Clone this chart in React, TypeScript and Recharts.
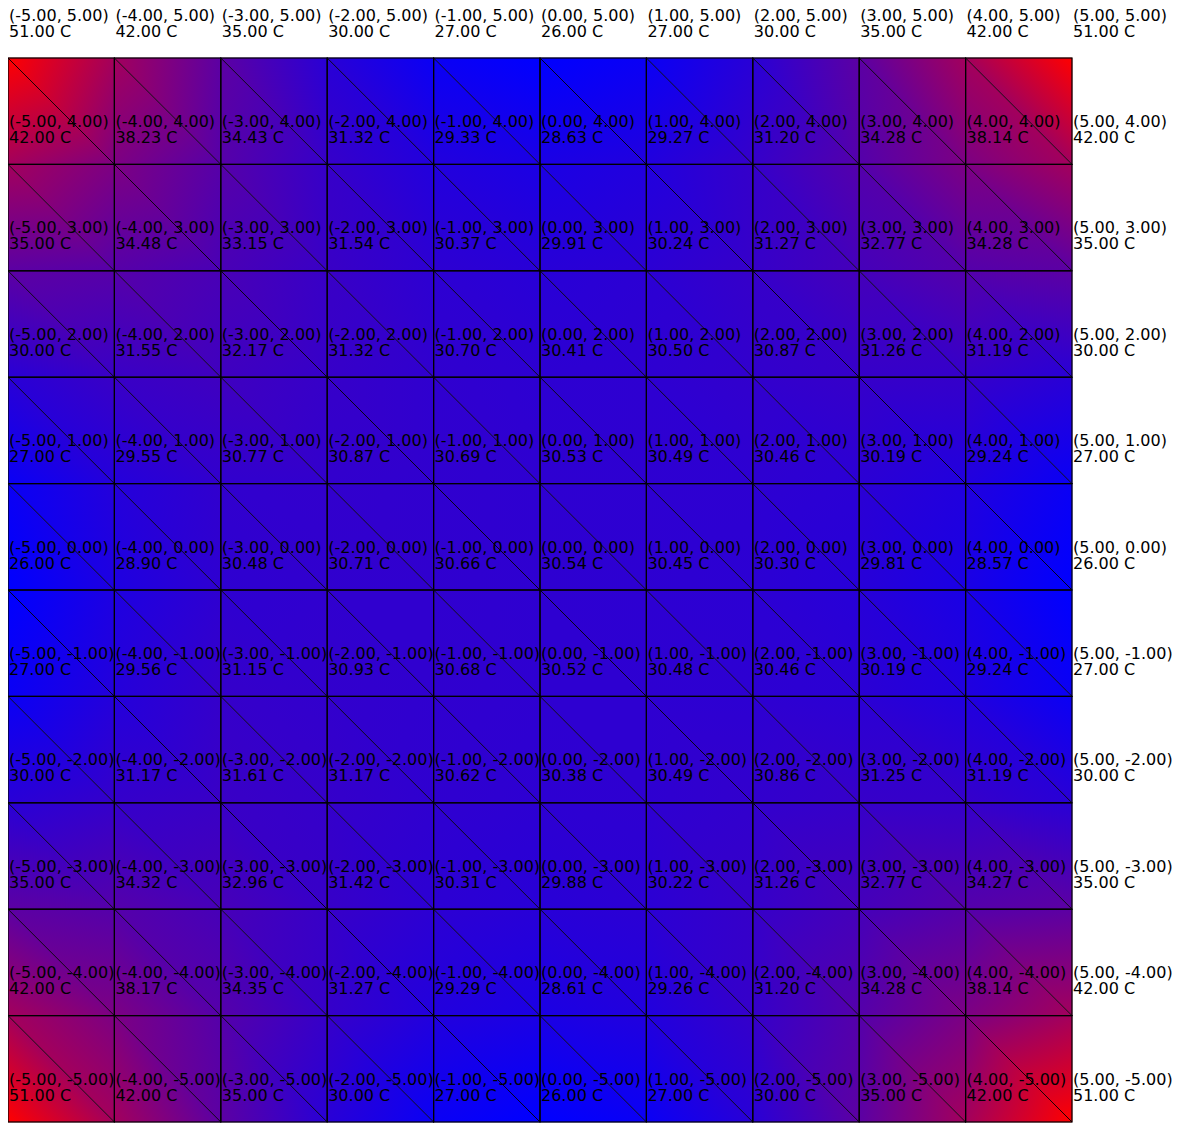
import React from "react";
import { ScatterChart, Scatter, XAxis, YAxis, ReferenceArea } from "recharts";

// node coordinates, both axes
const COORDS = [-5, -4, -3, -2, -1, 0, 1, 2, 3, 4, 5];

// temperature at each node, one row per y value (x from -5 to 5)
const tempY5 = [51.0, 42.0, 35.0, 30.0, 27.0, 26.0, 27.0, 30.0, 35.0, 42.0, 51.0];
const tempY4 = [42.0, 38.23, 34.43, 31.32, 29.33, 28.63, 29.27, 31.2, 34.28, 38.14, 42.0];
const tempY3 = [35.0, 34.48, 33.15, 31.54, 30.37, 29.91, 30.24, 31.27, 32.77, 34.28, 35.0];
const tempY2 = [30.0, 31.55, 32.17, 31.32, 30.7, 30.41, 30.5, 30.87, 31.26, 31.19, 30.0];
const tempY1 = [27.0, 29.55, 30.77, 30.87, 30.69, 30.53, 30.49, 30.46, 30.19, 29.24, 27.0];
const tempY0 = [26.0, 28.9, 30.48, 30.71, 30.66, 30.54, 30.45, 30.3, 29.81, 28.57, 26.0];
const tempYm1 = [27.0, 29.56, 31.15, 30.93, 30.68, 30.52, 30.48, 30.46, 30.19, 29.24, 27.0];
const tempYm2 = [30.0, 31.17, 31.61, 31.17, 30.62, 30.38, 30.49, 30.86, 31.25, 31.19, 30.0];
const tempYm3 = [35.0, 34.32, 32.96, 31.42, 30.31, 29.88, 30.22, 31.26, 32.77, 34.27, 35.0];
const tempYm4 = [42.0, 38.17, 34.35, 31.27, 29.29, 28.61, 29.26, 31.2, 34.28, 38.14, 42.0];
const tempYm5 = [51.0, 42.0, 35.0, 30.0, 27.0, 26.0, 27.0, 30.0, 35.0, 42.0, 51.0];

const ROWS: Record<number, number[]> = {
  5: tempY5,
  4: tempY4,
  3: tempY3,
  2: tempY2,
  1: tempY1,
  0: tempY0,
  [-1]: tempYm1,
  [-2]: tempYm2,
  [-3]: tempYm3,
  [-4]: tempYm4,
  [-5]: tempYm5,
};

const T_MIN = 26;
const T_MAX = 51;

const tempAt = (x: number, y: number) => ROWS[y][COORDS.indexOf(x)];

const colorOf = (t: number) => {
  const f = Math.max(0, Math.min(1, (t - T_MIN) / (T_MAX - T_MIN)));
  const r = Math.round(f * 255);
  const b = 255 - r;
  return `rgb(${r},0,${b})`;
};

const nodes = COORDS.flatMap((y) => COORDS.map((x) => ({ x, y, t: tempAt(x, y) })));

const cells: { x1: number; x2: number; y1: number; y2: number }[] = [];
for (let i = 0; i < COORDS.length - 1; i++) {
  for (let j = 0; j < COORDS.length - 1; j++) {
    cells.push({ x1: COORDS[i], x2: COORDS[i + 1], y1: COORDS[j], y2: COORDS[j + 1] });
  }
}

type Pt = [number, number];

// triangle shaded like gouraud: temperature is linear inside, so one linear gradient does it
function Tri({ id, p, t }: { id: string; p: Pt[]; t: number[] }) {
  const [p0, p1, p2] = p;
  const e1x = p1[0] - p0[0], e1y = p1[1] - p0[1];
  const e2x = p2[0] - p0[0], e2y = p2[1] - p0[1];
  const d1 = t[1] - t[0], d2 = t[2] - t[0];
  const det = e1x * e2y - e1y * e2x;
  const pts = p.map((q) => q.join(",")).join(" ");
  if (Math.abs(det) < 1e-9) return null;
  const a = (d1 * e2y - d2 * e1y) / det;
  const b = (e1x * d2 - e2x * d1) / det;
  const g2 = a * a + b * b;
  const lo = Math.min(...t);
  const hi = Math.max(...t);
  if (g2 < 1e-12 || hi - lo < 1e-9) {
    return <polygon points={pts} fill={colorOf(t[0])} stroke={colorOf(t[0])} strokeWidth={0.5} />;
  }
  const ax = p0[0] + (a * (lo - t[0])) / g2;
  const ay = p0[1] + (b * (lo - t[0])) / g2;
  const bx = p0[0] + (a * (hi - t[0])) / g2;
  const by = p0[1] + (b * (hi - t[0])) / g2;
  return (
    <g>
      <defs>
        <linearGradient id={id} gradientUnits="userSpaceOnUse" x1={ax} y1={ay} x2={bx} y2={by}>
          <stop offset="0" stopColor={colorOf(lo)} />
          <stop offset="1" stopColor={colorOf(hi)} />
        </linearGradient>
      </defs>
      <polygon points={pts} fill={`url(#${id})`} stroke={`url(#${id})`} strokeWidth={0.5} />
    </g>
  );
}

function CellShape(props: any) {
  const { cell } = props;
  let { x, y, width, height } = props;
  if (width < 0) { x += width; width = -width; }
  if (height < 0) { y += height; height = -height; }
  const tl: Pt = [x, y];
  const tr: Pt = [x + width, y];
  const bl: Pt = [x, y + height];
  const br: Pt = [x + width, y + height];
  const tTL = tempAt(cell.x1, cell.y2);
  const tTR = tempAt(cell.x2, cell.y2);
  const tBL = tempAt(cell.x1, cell.y1);
  const tBR = tempAt(cell.x2, cell.y1);
  const key = `c${cell.x1}_${cell.y1}`.replace(/-/g, "m");
  return (
    <g>
      <Tri id={`${key}u`} p={[tl, tr, br]} t={[tTL, tTR, tBR]} />
      <Tri id={`${key}l`} p={[tl, bl, br]} t={[tTL, tBL, tBR]} />
      <line x1={tl[0]} y1={tl[1]} x2={br[0]} y2={br[1]} stroke="#000" strokeWidth={0.9} />
    </g>
  );
}

function GridShape(props: any) {
  let { x, y, width, height } = props;
  if (width < 0) { x += width; width = -width; }
  if (height < 0) { y += height; height = -height; }
  return <rect x={x} y={y} width={width} height={height} fill="none" stroke="#000" strokeWidth={1.2} />;
}

function NodeLabel(props: any) {
  const { cx, cy, payload } = props;
  if (cx == null || cy == null) return null;
  return (
    <g fontFamily="DejaVu Sans" fontSize={16} fill="#000">
      <text x={cx + 1} y={cy - 37.5}>
        {`(${payload.x.toFixed(2)}, ${payload.y.toFixed(2)})`}
      </text>
      <text x={cx + 1} y={cy - 21.5}>
        {`${payload.t.toFixed(2)} C`}
      </text>
    </g>
  );
}

export default function App() {
  return (
    <div>
      <style>{`.recharts-surface { overflow: visible; }`}</style>
      <ScatterChart width={1179} height={1118} margin={{ top: 50, right: 115, bottom: 4, left: 0 }}>
        <XAxis type="number" dataKey="x" domain={[-5, 5]} hide />
        <YAxis type="number" dataKey="y" domain={[-5, 5]} hide />
        {cells.map((c) => (
          <ReferenceArea
            key={`a${c.x1}_${c.y1}`}
            x1={c.x1}
            x2={c.x2}
            y1={c.y1}
            y2={c.y2}
            ifOverflow="visible"
            shape={(p: any) => <CellShape {...p} cell={c} />}
          />
        ))}
        {cells.map((c) => (
          <ReferenceArea
            key={`g${c.x1}_${c.y1}`}
            x1={c.x1}
            x2={c.x2}
            y1={c.y1}
            y2={c.y2}
            ifOverflow="visible"
            shape={(p: any) => <GridShape {...p} />}
          />
        ))}
        <Scatter data={nodes} isAnimationActive={false} shape={(p: any) => <NodeLabel {...p} />} />
      </ScatterChart>
    </div>
  );
}
